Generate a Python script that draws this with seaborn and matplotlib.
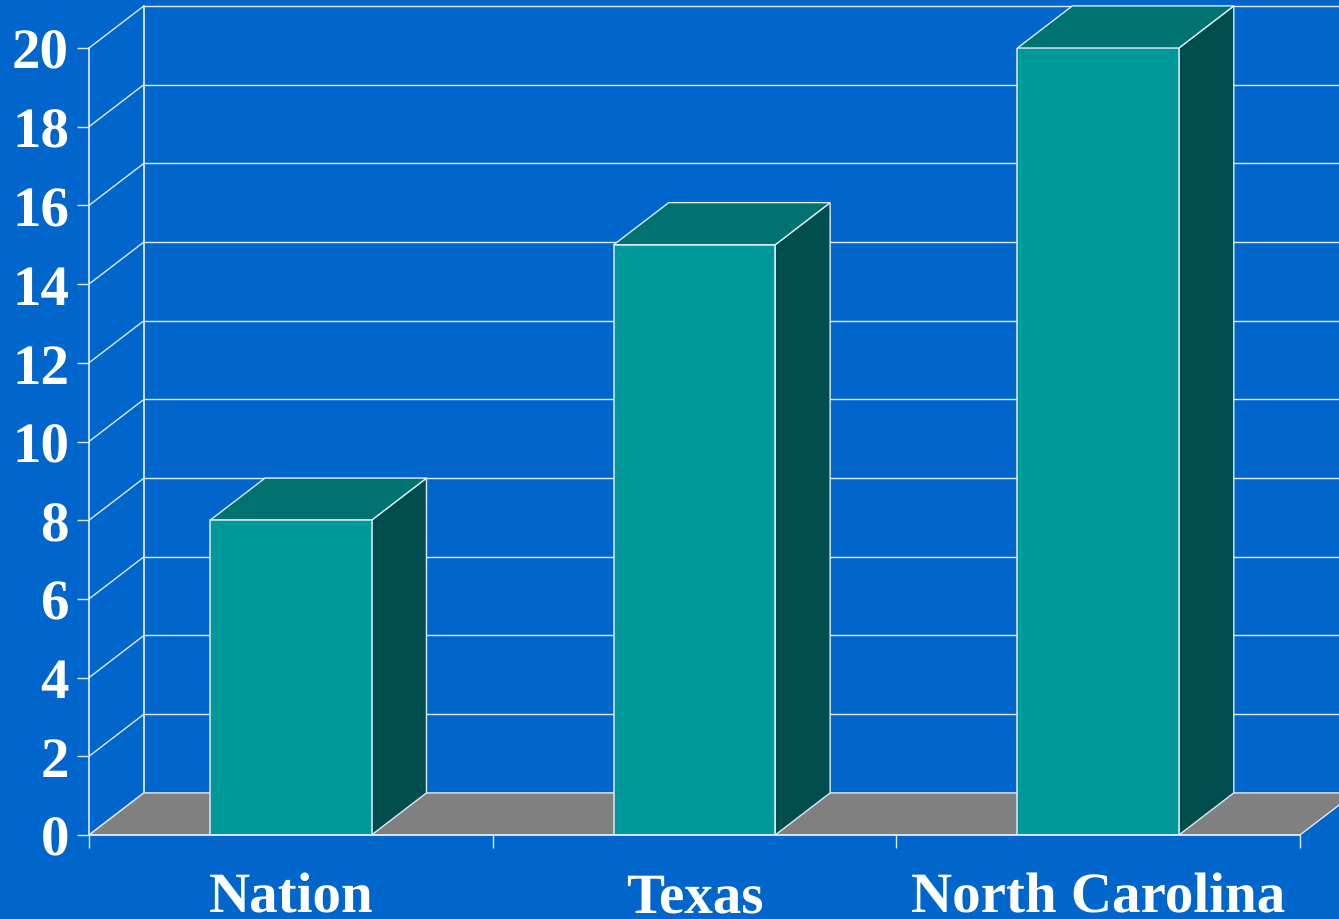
import matplotlib
matplotlib.use('Agg')
import matplotlib.pyplot as plt
import seaborn as sns
import pandas as pd

# data
states = ['Nation', 'Texas', 'North Carolina']
rates = [8, 15, 20]
y_ticks = [0, 2, 4, 6, 8, 10, 12, 14, 16, 18, 20]

# colours
bg = '#0066CC'
front = '#009999'
side = '#004D4D'
top = '#007370'
floor = '#808080'
line = '#DCEAF8'

# 3D look: depth of the box, in data units (55 px right, 42 px up)
depth_x = 0.136
depth_y = 1.07

sns.set_style('white')
plt.rcParams['font.family'] = ['Liberation Serif', 'DejaVu Serif']
plt.rcParams['font.weight'] = 'bold'
plt.rcParams['text.hinting'] = 'no_hinting'
plt.rcParams['text.hinting_factor'] = 1

fig = plt.figure(figsize=(13.39, 9.2), dpi=100, facecolor=bg)
ax = fig.add_axes([89 / 1339, 1 - 836 / 920, 1211 / 1339, 787 / 920])
ax.set_facecolor('none')

df = pd.DataFrame({'state': states, 'rate': rates})
sns.barplot(data=df, x='state', y='rate', color=front, saturation=1, width=0.4,
            edgecolor=line, linewidth=1.1, ax=ax, zorder=5)
bars = list(ax.patches)
ax.set_xlim(-0.5, 2.5)
ax.set_ylim(0, 20)
ax.set_xlabel('')
ax.set_ylabel('')

x0, x1 = ax.get_xlim()

# back wall and side wall lines
for v in y_ticks:
    ax.plot([x0 + depth_x, x1 + depth_x], [v + depth_y, v + depth_y], color=line,
            lw=1, clip_on=False, zorder=1)
    ax.plot([x0, x0 + depth_x], [v, v + depth_y], color=line, lw=1,
            clip_on=False, zorder=1)
ax.plot([x0 + depth_x, x0 + depth_x], [depth_y, y_ticks[-1] + depth_y], color=line,
        lw=1.3, clip_on=False, zorder=1)

# floor
ax.fill([x0, x0 + depth_x, x1 + depth_x, x1], [0, depth_y, depth_y, 0],
        facecolor=floor, edgecolor=line, lw=1, clip_on=False, zorder=2)

# side and top of each bar
for bar in bars:
    bx0 = bar.get_x()
    bx1 = bx0 + bar.get_width()
    h = bar.get_height()
    ax.fill([bx1, bx1 + depth_x, bx1 + depth_x, bx1], [0, depth_y, h + depth_y, h],
            facecolor=side, edgecolor=line, lw=1, clip_on=False, zorder=4)
    ax.fill([bx0, bx0 + depth_x, bx1 + depth_x, bx1], [h, h + depth_y, h + depth_y, h],
            facecolor=top, edgecolor=line, lw=1, clip_on=False, zorder=4)

# axes
for s in ['top', 'right']:
    ax.spines[s].set_visible(False)
for s in ['left', 'bottom']:
    ax.spines[s].set_color(line)
    ax.spines[s].set_linewidth(1.2)
    ax.spines[s].set_zorder(6)

ax.set_yticks(y_ticks)
ax.tick_params(axis='y', left=True, length=8.6, width=1, color=line, pad=5.8,
               labelsize=41, labelcolor='white')
ax.set_xticks([x0, 0.5, 1.5, x1], minor=True)
ax.tick_params(axis='x', which='minor', bottom=True, length=9.4, width=1, color=line)
ax.tick_params(axis='x', which='major', bottom=False, length=0, pad=55,
               labelsize=41, labelcolor='white')
for lab in ax.get_xticklabels():
    lab.set_va('baseline')

fig.savefig('out.png', dpi=100, facecolor=bg)
